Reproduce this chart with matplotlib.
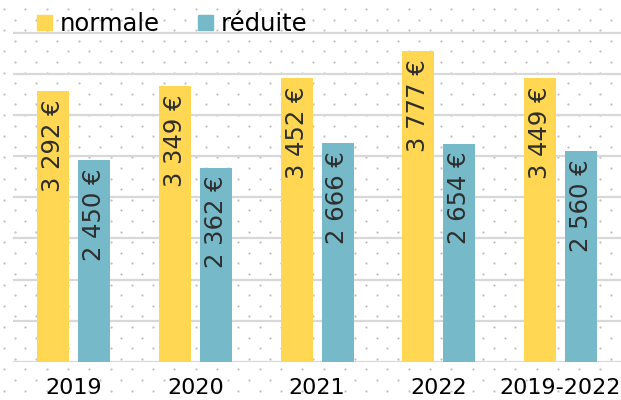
import numpy as np
import matplotlib.pyplot as plt
from matplotlib.patches import Patch

categories = ['2019', '2020', '2021', '2022', '2019-2022']
normale = [3292, 3349, 3452, 3777, 3449]
reduite = [2450, 2362, 2666, 2654, 2560]
series_names = ['normale', 'réduite']

YELLOW = '#FFD752'
TEAL = '#76B9C8'

plt.rcParams['font.family'] = ['DejaVu Sans']

fig = plt.figure(figsize=(6.21, 4.0), dpi=100)

# fond pointillé
bg = fig.add_axes([0, 0, 1, 1], zorder=0)
bg.set_xlim(0, 621)
bg.set_ylim(400, 0)
bg.axis('off')
dx, dy = 21.3, 10.6
pts = []
for k, yy in enumerate(np.arange(9, 400, dy)):
    x0 = 4 if k % 2 == 0 else 4 + dx / 2
    for xx in np.arange(x0, 621, dx):
        pts.append((xx, yy))
pts = np.array(pts)
bg.scatter(pts[:, 0], pts[:, 1], s=2.6, color='#c2c2c2', linewidths=0)

# axe principal
base_y = 361.7
top_4000 = 33
ax = fig.add_axes([13 / 621, (400 - base_y) / 400, 608 / 621, base_y / 400], zorder=1)
ax.patch.set_alpha(0)
ax.set_xlim(-0.5, len(categories) - 0.5)
ax.set_ylim(0, 4000 * base_y / (base_y - top_4000))
ax.set_yticks(range(0, 4001, 500))
ax.yaxis.grid(True, color='#d8d8d8', linewidth=1.6)
ax.set_axisbelow(True)
for s in ax.spines.values():
    s.set_visible(False)
ax.tick_params(axis='both', length=0)
ax.set_yticklabels([])

x = np.arange(len(categories))
off = 20.5 / 121.6
w = 32 / 121.6
b1 = ax.bar(x - off, normale, width=w, color=YELLOW, zorder=2)
b2 = ax.bar(x + off, reduite, width=w, color=TEAL, zorder=2)

for bars, vals in ((b1, normale), (b2, reduite)):
    for rect, v in zip(bars, vals):
        label = f"{v:,}".replace(',', ' ') + ' €'
        ax.annotate(label, xy=(rect.get_x() + rect.get_width() / 2, v),
                    xytext=(0, -6), textcoords='offset points',
                    rotation=90, ha='center', va='top',
                    fontsize=17.5, color='#2e2e2e', zorder=3)

ax.set_xticks(x)
ax.set_xticklabels(categories, fontsize=16, color='#000000')
ax.tick_params(axis='x', pad=12)

handles = [Patch(color=YELLOW), Patch(color=TEAL)]
fig.legend(handles, series_names, loc='center left',
           bbox_to_anchor=(37 / 621, 1 - 24 / 400), ncol=2, frameon=False,
           fontsize=17.5, handlelength=0.62, handleheight=0.62,
           handletextpad=0.3, columnspacing=1.6, borderpad=0, borderaxespad=0)

fig.savefig('out.png', dpi=100)
